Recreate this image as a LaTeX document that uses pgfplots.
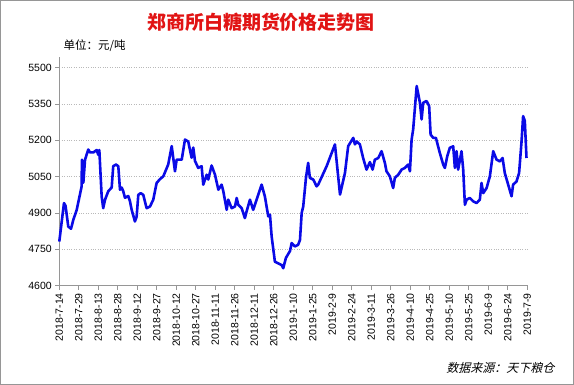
\documentclass[border=0pt]{standalone}
\usepackage{pgfplots}
\pgfplotsset{compat=1.18}
\usepackage{fontspec}
\setmainfont{Liberation Sans}
\newfontfamily\cjk{Noto Sans CJK SC}
\newfontfamily\cjkit[FakeSlant=0.25]{Noto Sans CJK SC}
\definecolor{lineblue}{RGB}{10,10,230}
\definecolor{titlered}{RGB}{225,20,20}
\definecolor{axgray}{RGB}{150,150,150}
\begin{document}
\begin{tikzpicture}[x=1pt,y=1pt]
\draw[axgray, line width=1.2pt] (0.6,0.6) rectangle (573.4,384.4);
\node[titlered, font=\cjk\bfseries\fontsize{19}{22}\selectfont] at (261,363) {郑商所白糖期货价格走势图};
\node[anchor=west, font=\cjk\fontsize{11.5}{13}\selectfont] at (60,339) {单位：元/吨};
\node[anchor=east, font=\cjkit\fontsize{12}{14}\selectfont] at (558,17) {数据来源：天下粮仓};
\begin{axis}[
  at={(59.3pt,99.3pt)}, anchor=south west,
  scale only axis, width=468.5pt, height=229pt,
  xmin=0, xmax=360.5, ymin=4600, ymax=5545,
  axis x line=bottom, axis y line=left,
  axis line style={draw=axgray, line width=0.8pt, -},
  xtick={0,15,...,360},
  xticklabels={2018-7-14,2018-7-29,2018-8-13,2018-8-28,2018-9-12,2018-9-27,2018-10-12,2018-10-27,2018-11-11,2018-11-26,2018-12-11,2018-12-26,2019-1-10,2019-1-25,2019-2-9,2019-2-24,2019-3-11,2019-3-26,2019-4-10,2019-4-25,2019-5-10,2019-5-25,2019-6-9,2019-6-24,2019-7-9},
  x tick label style={rotate=90, anchor=east, font=\fontsize{10.5}{12}\selectfont},
  ytick={4600,4750,...,5500},
  y tick label style={font=\fontsize{10.5}{12}\selectfont},
  /pgf/number format/assume math mode=true,
  /pgf/number format/1000 sep={},
  tick align=outside, major tick length=4pt,
  tick style={draw=axgray, line width=0.8pt},
  ymajorgrids, grid style={draw=gray!55, dotted, line width=0.9pt},
  clip=false,
]
\addplot[lineblue, line width=2.6pt, line join=round] coordinates {
(0,4782) (3.6,4941) (4.8,4930) (6.9,4844) (9,4835) (10.8,4872) (13.4,4913) (17.2,5010) (17.4,5120) (18.5,5025) (19.8,5120) (22.3,5162) (23.6,5150) (26.2,5150) (28.8,5160) (30,5140) (30.8,5160) (32.6,4968) (33.8,4920) (35.2,4955) (37.7,4990) (40.3,5005) (41.5,5093) (43.6,5100) (45.4,5093) (46.7,4996) (48,5005) (49.2,4990) (50.5,4963) (53.1,4970) (54.4,4948) (55.7,4913) (58.2,4865) (59.5,4885) (60.8,4975) (62.6,4982) (64.6,4975) (67.2,4920) (69.8,4927) (72.3,4955) (74.9,5024) (77.5,5040) (80,5051) (83.8,5100) (86.5,5176) (89,5072) (90.3,5120) (94.2,5120) (96.7,5203) (99.2,5195) (101.8,5128) (103.1,5170) (104.4,5115) (106.9,5086) (109.5,5093) (110.8,5017) (113.4,5058) (114.6,5038) (117.2,5096) (119.8,5058) (122.4,4996) (124.9,5017) (126.2,4990) (128.8,4913) (130,4955) (132.6,4920) (135.2,4927) (136.5,4962) (137.7,4934) (140.3,4920) (142.8,4879) (144.1,4906) (146.7,4955) (149.2,4913) (151.8,4955) (155.7,5017) (158.2,4968) (160.8,4886) (162.1,4893) (163.4,4803) (165.9,4699) (168.5,4692) (171.1,4685) (172.3,4672) (174.4,4715) (177.5,4743) (178.8,4776) (181.3,4762) (183.8,4769) (185.2,4789) (186.5,4900) (187.7,4927) (189.8,5045) (191.5,5107) (192.8,5045) (195.4,5038) (198,5010) (199.2,5017) (205.7,5093) (212.1,5183) (216,4976) (219.8,5065) (222.3,5176) (226.2,5210) (227.5,5183) (228.8,5195) (231.3,5183) (233.8,5127) (236.4,5079) (239,5110) (241.1,5079) (242.8,5120) (245.4,5127) (248,5155) (250.5,5107) (251.8,5072) (254.4,5051) (256.9,5003) (258.2,5045) (260.8,5058) (263.4,5079) (265.9,5086) (268.5,5100) (269.8,5072) (271.1,5203) (272.3,5245) (275,5424) (277.5,5355) (278.8,5286) (280,5355) (282.6,5362) (284.6,5341) (285.7,5224) (287.7,5210) (289.8,5210) (292.8,5148) (295.4,5100) (296.7,5086) (298.5,5134) (300.5,5169) (303.1,5175) (304.4,5086) (305.7,5155) (306.9,5079) (309.5,5155) (310.8,5079) (312.1,4934) (313.4,4955) (315.9,4962) (318.5,4948) (321.1,4941) (323.6,4955) (324.9,5024) (326.2,4982) (328.8,5003) (331.3,5051) (333.9,5155) (336.5,5120) (339,5113) (341.1,5127) (342.8,5065) (345.4,5017) (348,4969) (349.2,5017) (351.8,5030) (353.8,5065) (355.7,5196) (356.9,5300) (358.2,5280) (359.5,5127)
};
\end{axis}
\end{tikzpicture}
\end{document}
